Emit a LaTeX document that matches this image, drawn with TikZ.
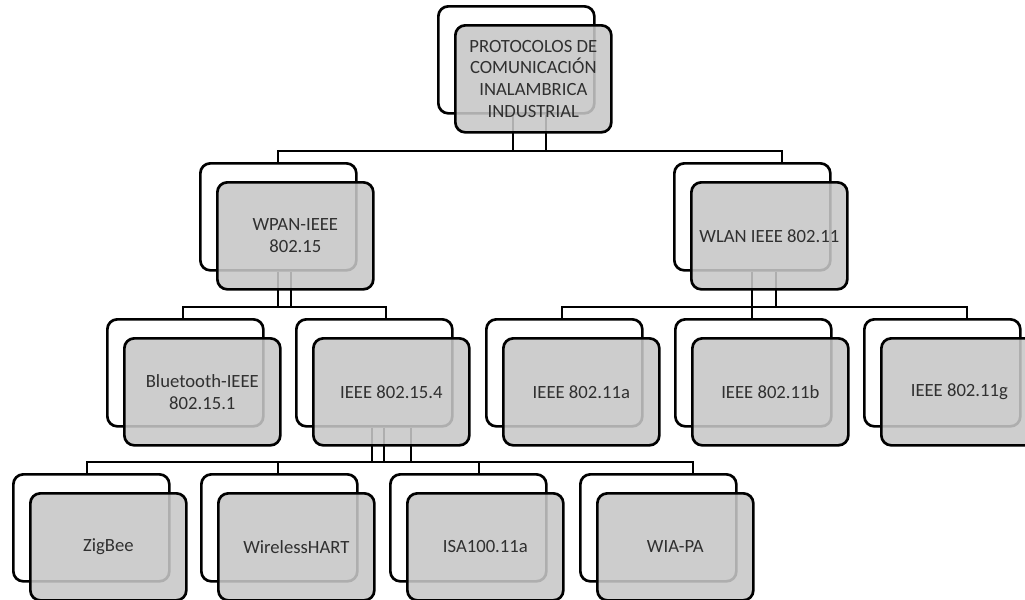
\documentclass[tikz,border=0pt]{standalone}
\usepackage{fontspec}
\setmainfont{Carlito}
\definecolor{frontgray}{RGB}{199,199,199}
\definecolor{txtgray}{RGB}{48,48,48}
\begin{document}
\begin{tikzpicture}[x=0.75pt,y=-0.75pt,
  conn/.style={line width=2pt, line join=miter},
  boxbase/.style={draw=black, line width=2pt, rounded corners=7.5pt,
    minimum width=117pt, minimum height=80.25pt, inner sep=0pt, anchor=north west},
  backbox/.style={boxbase, fill=white},
  frontbox/.style={boxbase, fill=frontgray, fill opacity=0.88, text opacity=1,
    align=center, text=txtgray, font=\fontsize{14}{16.3}\selectfont},
]
\useasboundingbox (0,0) rectangle (1025,600);

% ---------- connector coordinates ----------
\coordinate (h1a) at (513,151);
\coordinate (h1b) at (546,151);
\coordinate (h1l) at (278,151);
\coordinate (h1r) at (782,151);
\coordinate (h2a) at (278,307);
\coordinate (h2b) at (291,307);
\coordinate (h2l) at (183,307);
\coordinate (h2r) at (386,307);
\coordinate (h3a) at (752,307);
\coordinate (h3b) at (776,307);
\coordinate (h3l) at (562,307);
\coordinate (h3r) at (967,307);
\coordinate (h4a) at (372,462);
\coordinate (h4b) at (384,462);
\coordinate (h4c) at (411,462);
\coordinate (h4l) at (87,462);
\coordinate (h4m) at (278,462);
\coordinate (h4n) at (479,462);
\coordinate (h4r) at (693,462);

% ---------- back boxes ----------
\node[backbox] (topB)  at (437,5)   {};
\node[backbox] (wpanB) at (199,162) {};
\node[backbox] (wlanB) at (673,162) {};
\node[backbox] (btB)   at (106,318) {};
\node[backbox] (i154B) at (295,318) {};
\node[backbox] (iaB)   at (485,318) {};
\node[backbox] (ibB)   at (674,318) {};
\node[backbox] (igB)   at (863,318) {};
\node[backbox] (zbB)   at (12,473)  {};
\node[backbox] (whB)   at (200,473) {};
\node[backbox] (isaB)  at (389,473) {};
\node[backbox] (wiaB)  at (579,473) {};

% ---------- connectors ----------
\draw[conn] (topB.south -| h1a) -- (h1a);
\draw[conn] (topB.south -| h1b) -- (h1b);
\draw[conn] (wpanB.north -| h1l) -- (h1l) -- (h1r) -- (wlanB.north -| h1r);

\draw[conn] (wpanB.south -| h2a) -- (h2a);
\draw[conn] (wpanB.south -| h2b) -- (h2b);
\draw[conn] (btB.north -| h2l) -- (h2l) -- (h2r) -- (i154B.north -| h2r);

\draw[conn] (wlanB.south -| h3a) -- (ibB.north -| h3a);
\draw[conn] (wlanB.south -| h3b) -- (h3b);
\draw[conn] (iaB.north -| h3l) -- (h3l) -- (h3r) -- (igB.north -| h3r);

\draw[conn] (i154B.south -| h4a) -- (h4a);
\draw[conn] (i154B.south -| h4b) -- (h4b);
\draw[conn] (i154B.south -| h4c) -- (h4c);
\draw[conn] (zbB.north -| h4l) -- (h4l) -- (h4r) -- (wiaB.north -| h4r);
\draw[conn] (h4m) -- (whB.north -| h4m);
\draw[conn] (h4n) -- (isaB.north -| h4n);

% ---------- front boxes ----------
\node[frontbox] (top)  at (454,24)  {PROTOCOLOS DE\\COMUNICACIÓN\\INALAMBRICA\\INDUSTRIAL};
\node[frontbox] (wpan) at (216,181) {WPAN-IEEE\\802.15};
\node[frontbox] (wlan) at (690,181) {WLAN IEEE 802.11};
\node[frontbox] (bt)   at (123,337) {Bluetooth-IEEE\\802.15.1};
\node[frontbox] (i154) at (312,337) {IEEE 802.15.4};
\node[frontbox] (ia)   at (502,337) {IEEE 802.11a};
\node[frontbox] (ib)   at (691,337) {IEEE 802.11b};
\node[frontbox] (ig)   at (880,337) {IEEE 802.11g};
\node[frontbox] (zb)   at (29,492)  {ZigBee};
\node[frontbox] (wh)   at (217,492) {WirelessHART};
\node[frontbox] (isa)  at (406,492) {ISA100.11a};
\node[frontbox] (wia)  at (596,492) {WIA-PA};
\end{tikzpicture}
\end{document}
